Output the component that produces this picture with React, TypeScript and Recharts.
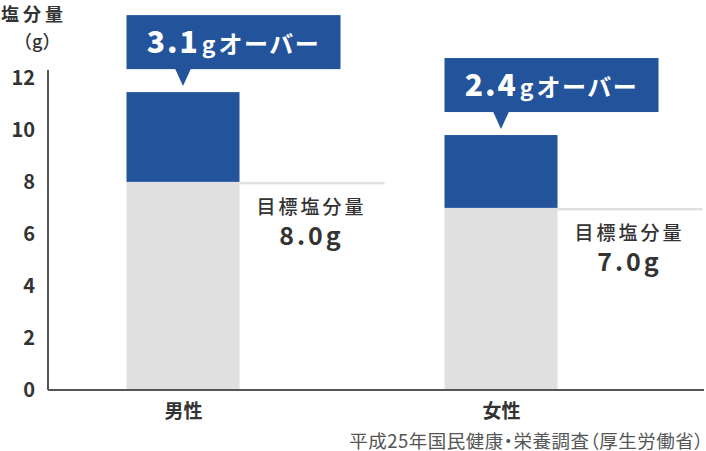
import React from 'react';
import { BarChart, Bar, XAxis, YAxis } from 'recharts';

const categories = ['男性', '女性'];
const targetIntake = [8.0, 7.0];
const excessHeight = [3.45, 2.8];
const excessLabels = ['3.1', '2.4'];
const yTicks = [0, 2, 4, 6, 8, 10, 12];

const data = categories.map((name, i) => ({
  x: i,
  name,
  target: targetIntake[i],
  over: excessHeight[i],
  overLabel: excessLabels[i],
}));

const FONT = "'Noto Sans CJK JP', 'Noto Sans', sans-serif";
const BLUE = '#23539b';
const GREY = '#e0e0e0';
const TEXT = '#333333';

const TargetShape = (props: any) => {
  const { x, y, width, height, payload } = props;
  const lx = x + width;
  const cx = lx + 72;
  return (
    <g>
      <rect x={x} y={y} width={width} height={height} fill={GREY} />
      <rect x={lx} y={y} width={145} height={2.5} fill={GREY} />
      <text x={cx} y={y + 32} textAnchor="middle" fontFamily={FONT} fontSize={19} fontWeight={500} letterSpacing={3} fill={TEXT}>
        目標塩分量
      </text>
      <text x={cx} y={y + 63} textAnchor="middle" fontFamily={FONT} fontSize={25} fontWeight={700} letterSpacing={3} fill={TEXT}>
        {payload.target.toFixed(1)}g
      </text>
    </g>
  );
};

const OverShape = (props: any) => {
  const { x, y, width, height, payload } = props;
  const boxW = 214;
  const boxH = 54;
  const boxTop = y - 77;
  const boxBottom = boxTop + boxH;
  const cx = x + width / 2;
  const tcx = x + boxW / 2;
  return (
    <g>
      <rect x={x} y={y} width={width} height={height} fill={BLUE} />
      <rect x={x} y={boxTop} width={boxW} height={boxH} fill={BLUE} />
      <path d={`M${cx - 8},${boxBottom - 0.5} L${cx + 8},${boxBottom - 0.5} L${cx},${y - 6} Z`} fill={BLUE} />
      <text x={tcx} y={boxTop + 38} textAnchor="middle" fontFamily={FONT} fill="#ffffff">
        <tspan fontSize={30} fontWeight={900} letterSpacing={2}>{payload.overLabel}</tspan>
        <tspan fontSize={23} fontWeight={700} letterSpacing={3} dx={2}>g</tspan>
        <tspan fontSize={24} fontWeight={700} letterSpacing={1.5}>オーバー</tspan>
      </text>
    </g>
  );
};

export default function App() {
  return (
    <div style={{ position: 'absolute', left: 0, top: 0, width: 706, height: 451, fontFamily: FONT, background: '#fff' }}>
      <BarChart width={706} height={451} data={data} margin={{ top: 70, right: 2, bottom: 31, left: 0 }}>
        <XAxis
          dataKey="x"
          type="number"
          domain={[-0.4261, 1.6368]}
          ticks={[0, 1]}
          tickFormatter={(v: number) => categories[v]}
          height={30}
          tickLine={false}
          tickSize={0}
          tickMargin={15}
          axisLine={{ stroke: '#555555', strokeWidth: 2 }}
          tick={{ fontFamily: FONT, fontSize: 19, fontWeight: 700, fill: TEXT }}
        />
        <YAxis
          type="number"
          domain={[0, 12.3]}
          ticks={yTicks}
          width={48}
          tickLine={false}
          tickSize={0}
          tickMargin={13}
          axisLine={{ stroke: '#555555', strokeWidth: 2 }}
          tick={{ fontFamily: FONT, fontSize: 20, fontWeight: 700, fill: TEXT }}
        />
        <Bar dataKey="target" stackId="a" fill={GREY} barSize={113} shape={TargetShape} isAnimationActive={false} />
        <Bar dataKey="over" stackId="a" fill={BLUE} barSize={113} shape={OverShape} isAnimationActive={false} />
      </BarChart>
      <div style={{ position: 'absolute', left: 1, top: 0, fontSize: 18, fontWeight: 700, letterSpacing: 4, color: TEXT, lineHeight: '26px' }}>
        塩分量
      </div>
      <div style={{ position: 'absolute', left: 14, top: 27, fontSize: 18, fontWeight: 500, color: TEXT, lineHeight: '26px' }}>
        （g）
      </div>
      <div style={{ position: 'absolute', right: 2, top: 431, fontSize: 18.5, color: '#555555', lineHeight: '18px', whiteSpace: 'nowrap', fontFeatureSettings: "'palt'", letterSpacing: 0.5 }}>
        平成25年国民健康・栄養調査（厚生労働省）
      </div>
    </div>
  );
}
